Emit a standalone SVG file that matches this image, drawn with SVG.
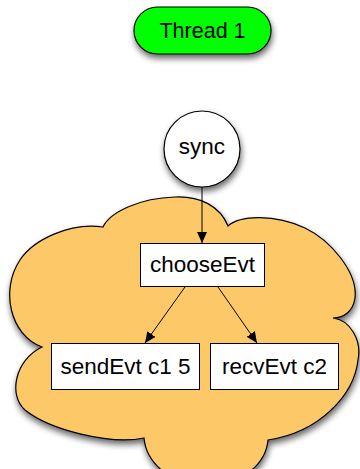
<svg xmlns="http://www.w3.org/2000/svg" width="360" height="469" viewBox="0 0 360 469">
<style>
text{font-family:"Liberation Sans",Arial,sans-serif;font-size:22.5px;fill:#000;text-anchor:middle}
.box{fill:#fff;stroke:#000;stroke-width:1}
.edge{stroke:#000;stroke-width:1;fill:none;marker-end:url(#arr)}
</style>
<defs>
<filter id="sh" x="-20%" y="-20%" width="140%" height="150%">
<feGaussianBlur in="SourceAlpha" stdDeviation="3"/>
<feOffset dx="1" dy="4" result="b"/>
<feComponentTransfer><feFuncA type="linear" slope="0.6"/></feComponentTransfer>
<feMerge><feMergeNode/><feMergeNode in="SourceGraphic"/></feMerge>
</filter>
<marker id="arr" markerUnits="userSpaceOnUse" markerWidth="12" markerHeight="10" refX="11" refY="5" orient="auto">
<path d="M0,0 L11,5 L0,10 Z" fill="#000"/>
</marker>
</defs>
<g id="cloud">
<path filter="url(#sh)" fill="#fdc968" stroke="#000" stroke-width="1.2" d="M42,347 C10,335 0,290 20,260 C33,240 70,222 103,227 C110,212 140,198 175,197 C200,196 220,206 228,226 C240,215 275,214 305,228 C330,240 358,272 355,298 C353,312 343,318 333,318 C350,320 362,340 358,360 C354,395 320,432 268,440 C266,462 245,485 206,485 C167,485 146,460 144,438 C110,445 50,430 25,410 C8,395 15,360 42,347 Z"/>
</g>
<g id="thread1">
<rect filter="url(#sh)" x="134" y="7" width="137" height="47" rx="23.5" fill="#00ff00" stroke="#000" stroke-width="1.2"/>
<text x="202.5" y="38" style="font-size:21.5px">Thread 1</text>
</g>
<g id="sync">
<circle filter="url(#sh)" cx="202" cy="149" r="38" fill="#fff" stroke="#000" stroke-width="1.2"/>
<text x="202" y="154">sync</text>
</g>
<g id="chooseEvt">
<rect class="box" x="140.5" y="243.5" width="124" height="43"/>
<text x="202.5" y="272">chooseEvt</text>
</g>
<g id="sendEvt">
<rect class="box" x="51.5" y="343.5" width="148" height="46"/>
<text x="125.5" y="374">sendEvt c1 5</text>
</g>
<g id="recvEvt">
<rect class="box" x="210.5" y="343.5" width="128" height="46"/>
<text x="274.5" y="374">recvEvt c2</text>
</g>
<g id="connectors">
<line class="edge" x1="202" y1="187" x2="202" y2="243"/>
<line class="edge" x1="185" y1="287" x2="145" y2="343"/>
<line class="edge" x1="218" y1="287" x2="257" y2="343"/>
</g>
</svg>
